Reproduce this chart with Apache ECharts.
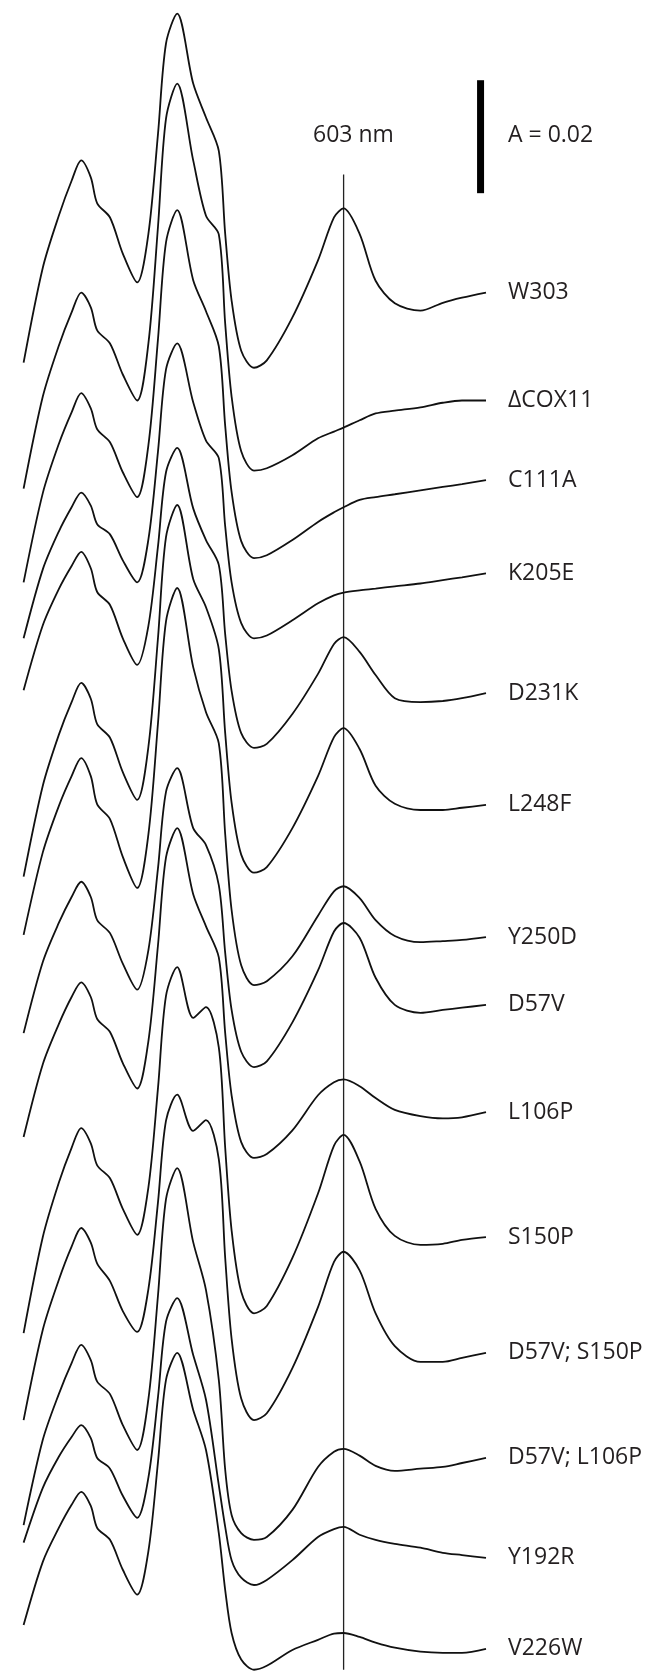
<!DOCTYPE html>
<html>
<head>
<meta charset="utf-8">
<script src="https://cdn.jsdelivr.net/npm/echarts@6/dist/echarts.min.js"></script>
<style>
  html, body { margin: 0; padding: 0; background: #fff; }
  #spectra { width: 652px; height: 1672px; }
</style>
</head>
<body>
<div id="spectra"></div>
<script>
// wavelengths (nm) where each trace was read
const wavelengths = [503, 509, 514, 518, 521, 524, 526, 530, 534, 538.5, 542, 545, 547.5, 551, 556, 560,
  564, 566, 568, 571, 575, 579, 587, 595, 600, 603, 608, 613, 619, 627, 634, 640, 647.5];

const strainNames = ['W303', 'ΔCOX11', 'C111A', 'K205E', 'D231K', 'L248F', 'Y250D', 'D57V',
  'L106P', 'S150P', 'D57V; S150P', 'D57V; L106P', 'Y192R', 'V226W'];

// vertical offset of each trace (mA), i.e. where its right end sits
const offsets = [244.2, 225.1, 211.0, 194.5, 173.3, 153.5, 130.1, 118.1, 99.1, 77.0, 56.5, 37.9, 20.2, 4.1];

// absorbance (mA) relative to the right end of each trace
const w303 = [-12.4, 4.4, 13.6, 19.8, 23.4, 20.4, 15.8, 13.3, 6.9, 1.8, 10.4, 28.1, 44.1, 49.4, 37.0, 31.0, 25.1, 10.4, -1.4, -10.3, -13.3, -12.0, -4.4, 5.7, 13.3, 14.9, 10.4, 2.1, -1.9, -3.2, -1.8, -0.9, 0];
const dcox11 = [-15.6, 0.7, 9.7, 15.6, 19.1, 16.5, 12.4, 10.1, 4.6, 0, 10.1, 30.8, 49.9, 56.1, 42.5, 32.7, 29.4, 13.6, 0.7, -9.0, -12.4, -12.0, -9.7, -6.7, -5.5, -4.8, -3.5, -2.3, -1.8, -1.2, -0.4, 0, 0];
const c111a = [-18.1, -2.3, 6.4, 12.0, 15.4, 12.7, 9.0, 6.7, 1.4, -3.0, 6.2, 25.0, 42.1, 47.8, 35.4, 29.9, 23.7, 9.6, -2.1, -10.8, -13.8, -13.3, -10.6, -7.4, -5.7, -4.8, -3.5, -3.0, -2.5, -1.8, -1.2, -0.7, 0];
const k205e = [-11.5, 0.7, 7.4, 11.7, 14.3, 12.0, 8.7, 6.9, 2.3, -1.6, 6.0, 21.6, 36.1, 40.7, 30.3, 23.5, 20.4, 8.3, -1.6, -8.8, -11.5, -11.0, -8.3, -5.3, -3.9, -3.4, -3.0, -2.7, -2.3, -1.8, -1.2, -0.7, 0];
const d231k = [0.5, 12.0, 18.4, 22.5, 25.0, 22.1, 17.9, 15.6, 9.7, 5.0, 11.9, 26.0, 39.1, 43.4, 32.7, 27.1, 22.7, 10.4, 0.4, -7.1, -9.7, -9.0, -3.7, 3.4, 8.7, 9.9, 7.3, 3.2, -0.9, -1.6, -1.4, -0.9, 0];
const l248f = [-12.7, 3.4, 12.4, 18.2, 21.6, 18.8, 14.3, 11.9, 5.8, 0.9, 10.3, 29.6, 47.4, 53.1, 40.0, 35.0, 27.6, 12.7, 0.4, -8.8, -12.0, -11.0, -4.1, 5.1, 12.0, 13.6, 9.9, 3.4, 0.2, -0.9, -0.9, -0.5, 0];
const y250d = [0.4, 15.0, 23.2, 28.5, 31.7, 28.5, 23.5, 20.9, 14.2, 8.7, 18.2, 37.9, 55.9, 61.8, 47.8, 39.8, 34.3, 18.2, 4.8, -5.0, -8.5, -7.8, -3.4, 3.8, 8.1, 9.0, 6.9, 3.0, 0.2, -0.9, -0.7, -0.5, 0];
const d57v = [-5.0, 7.6, 14.5, 19.1, 21.8, 19.1, 15.0, 12.7, 7.3, 2.7, 9.7, 24.2, 37.7, 41.9, 31.3, 28.3, 21.2, 9.2, -0.9, -8.3, -11.0, -10.0, -3.1, 6.1, 13.0, 14.5, 11.9, 4.8, 0, -1.4, -0.9, -0.5, 0];
const l106p = [-4.4, 8.5, 15.6, 20.4, 23.0, 20.4, 16.5, 14.2, 8.7, 4.2, 12.6, 29.6, 45.1, 50.3, 38.6, 32.9, 27.4, 14.0, 3.0, -5.3, -8.1, -7.4, -3.2, 3.0, 5.3, 5.8, 4.6, 2.5, 0.4, -0.7, -1.1, -0.9, 0];
const s150p = [-17.0, 0, 9.6, 15.8, 19.3, 16.6, 12.7, 10.4, 5.0, 0.4, 8.8, 26.4, 42.7, 47.8, 38.8, 40.7, 33.6, 15.8, 1.2, -9.7, -13.5, -12.2, -3.7, 7.7, 16.2, 18.1, 13.4, 5.0, 0.2, -1.4, -1.2, -0.5, 0];
const d57vS150p = [-11.9, 4.1, 12.9, 18.8, 22.1, 19.5, 15.8, 12.7, 7.4, 3.7, 11.3, 26.7, 41.1, 45.7, 39.3, 41.2, 34.3, 16.8, 2.5, -8.1, -11.9, -10.7, -2.7, 8.1, 16.1, 17.9, 14.6, 7.0, 1.2, -1.6, -1.6, -0.9, 0];
const d57vL106p = [-11.9, 3.2, 11.3, 16.8, 20.0, 17.3, 13.5, 11.3, 5.8, 1.4, 10.4, 28.8, 45.8, 51.3, 38.2, 29.7, 13.8, -2.1, -10.1, -13.3, -14.5, -14.0, -9.2, -1.6, 1.1, 1.6, 0.4, -1.4, -2.3, -1.9, -1.6, -0.9, 0];
const y192r = [2.7, 12.4, 17.9, 21.4, 23.5, 21.2, 17.7, 15.8, 11.0, 7.1, 14.2, 28.5, 41.8, 46.0, 35.9, 28.0, 12.9, 5.5, -0.4, -3.5, -4.8, -3.9, -0.4, 3.7, 5.1, 5.5, 4.1, 3.2, 2.5, 1.8, 0.9, 0.5, 0];
const v226w = [4.2, 15.4, 21.4, 25.5, 27.8, 25.3, 21.4, 19.3, 14.0, 9.6, 17.3, 33.1, 47.6, 52.4, 42.3, 35.2, 20.5, 10.4, 2.8, -1.9, -3.7, -3.0, -0.2, 1.6, 2.7, 2.8, 2.1, 1.1, 0.2, -0.5, -0.7, -0.7, 0];

const traces = [w303, dcox11, c111a, k205e, d231k, l248f, y250d, d57v, l106p, s150p, d57vS150p, d57vL106p, y192r, v226w];

// 603 nm reference line and the A = 0.02 scale bar (nm, mA)
const markerWavelength = 603;
const markerRange = [0.4, 265.1];
const scaleBarWavelength = 645.8;
const scaleBarRange = [261.8, 281.8];

const textColor = '#231f20';
const font = '"Open Sans", "Noto Sans", sans-serif';

const chart = echarts.init(document.getElementById('spectra'));

const traceSeries = traces.map((vals, i) => ({
  name: strainNames[i],
  type: 'line',
  data: wavelengths.map((w, j) => [w, +(offsets[i] + vals[j]).toFixed(2)]),
  smooth: 0.3,
  showSymbol: false,
  lineStyle: { color: '#111', width: 1.8 },
  endLabel: {
    show: true,
    formatter: '{a}',
    distance: 22,
    color: textColor,
    fontSize: 23,
    fontFamily: font,
  },
  z: 3,
}));

const option = {
  animation: false,
  grid: { left: 14, right: 158, top: 0, bottom: 0 },
  xAxis: { type: 'value', min: 500, max: 650, show: false },
  yAxis: { type: 'value', min: 0, max: 296, show: false },
  series: [
    ...traceSeries,
    {
      name: 'marker',
      type: 'line',
      data: markerRange.map((v) => [markerWavelength, v]),
      showSymbol: false,
      lineStyle: { color: '#222', width: 1.3 },
      z: 2,
    },
    {
      name: 'scale',
      type: 'line',
      data: scaleBarRange.map((v) => [scaleBarWavelength, v]),
      showSymbol: false,
      lineStyle: { color: '#000', width: 7, cap: 'butt' },
      z: 2,
    },
  ],
  graphic: [
    {
      type: 'text',
      left: 313,
      top: 124,
      style: { text: '603 nm', fill: textColor, font: '23px ' + font },
    },
    {
      type: 'text',
      left: 508,
      top: 124,
      style: { text: 'A = 0.02', fill: textColor, font: '23px ' + font },
    },
  ],
};

chart.setOption(option);
</script>
</body>
</html>
